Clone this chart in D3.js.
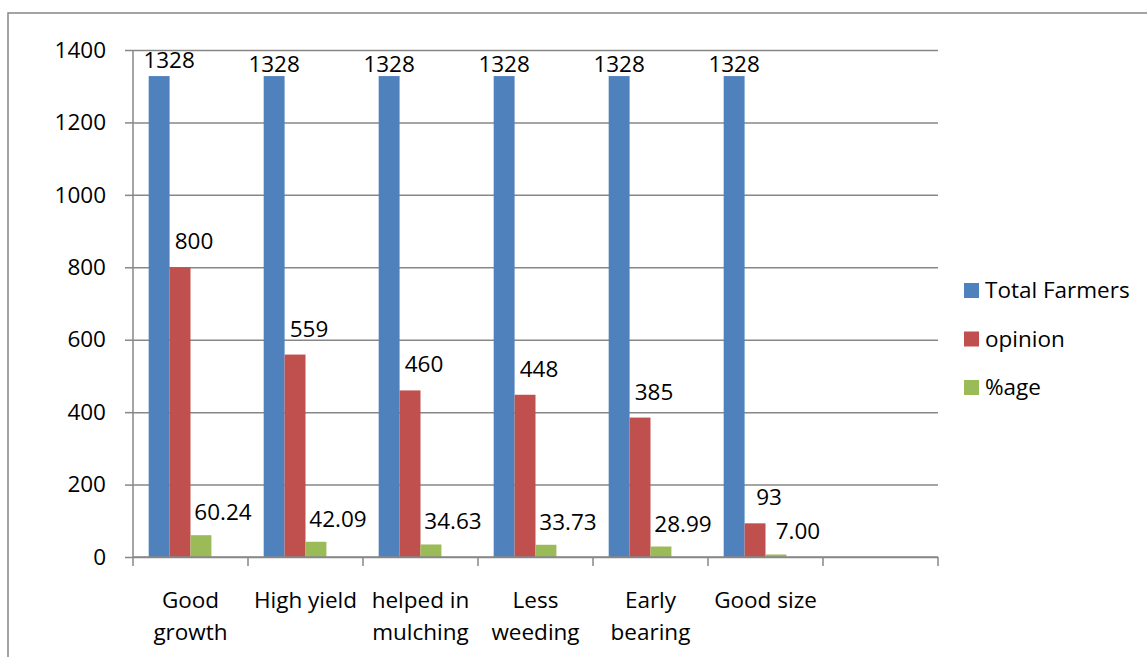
<!DOCTYPE html>
<html>
<head>
<meta charset="utf-8">
<script src="https://cdn.jsdelivr.net/npm/d3@7"></script>
<style>
  html, body { margin: 0; padding: 0; background: #fff; }
  svg { display: block; font-family: "Open Sans", Lato, sans-serif; }
</style>
</head>
<body>
<svg id="chart" width="1147" height="657"></svg>
<script>
// Farmers' opinions on the practice, by observed benefit
const categories = ["Good\ngrowth", "High yield", "helped in\nmulching", "Less\nweeding", "Early\nbearing", "Good size", ""];
const seriesNames = ["Total Farmers", "opinion", "%age"];
const totalFarmers = [1328, 1328, 1328, 1328, 1328, 1328];
const opinion = [800, 559, 460, 448, 385, 93];
const percentage = [60.24, 42.09, 34.63, 33.73, 28.99, 7.00];
const yTicks = [0, 200, 400, 600, 800, 1000, 1200, 1400];

const colors = ["#4F81BD", "#C0504D", "#9BBB59"];
const seriesValues = [totalFarmers, opinion, percentage];
const labelFormats = [d3.format("d"), d3.format("d"), d3.format(".2f")];
// label placement relative to the bar top centre, per series
const labelDx = [0, 14, 22];
const labelDy = [-4, -18, -15];

const svg = d3.select("#chart");
const plotLeft = 133, plotRight = 938, plotTop = 50, plotBottom = 557;
const gridColor = "#878787";
const fontSize = 22.5;
const fontFamily = "'Open Sans', Lato, sans-serif";

// outer frame
svg.append("rect")
  .attr("x", 8).attr("y", 13)
  .attr("width", 1160).attr("height", 670)
  .attr("fill", "none").attr("stroke", gridColor).attr("stroke-width", 1.5);

const x0 = d3.scaleBand().domain(d3.range(categories.length)).range([plotLeft, plotRight]).padding(0);
// a fourth, empty slot keeps the bar group width of the source chart
const x1 = d3.scaleBand().domain([0, 1, 2, 3]).range([0, x0.bandwidth()]).paddingInner(0).paddingOuter(0.75);
const y = d3.scaleLinear().domain([0, 1400]).range([plotBottom, plotTop]);

// horizontal gridlines
svg.append("g")
  .attr("transform", `translate(${plotLeft},0)`)
  .call(d3.axisLeft(y).tickValues(yTicks).tickSize(-(plotRight - plotLeft)).tickFormat(""))
  .call(g => g.select(".domain").remove())
  .call(g => g.selectAll("line").attr("stroke", gridColor).attr("stroke-width", 1.5));

// y axis with outward ticks
const yAxis = svg.append("g")
  .attr("transform", `translate(${plotLeft},0)`)
  .call(d3.axisLeft(y).tickValues(yTicks).tickSize(8).tickPadding(19).tickFormat(d3.format("d")));
yAxis.select(".domain").attr("stroke", gridColor).attr("stroke-width", 1.5).attr("d", `M0,${plotTop}V${plotBottom}`);
yAxis.selectAll("line").attr("stroke", gridColor).attr("stroke-width", 1.5);
yAxis.selectAll("text").attr("font-size", fontSize).attr("font-family", fontFamily).attr("fill", "#000");

// bars with value labels
seriesValues.forEach((vals, s) => {
  const g = svg.append("g");
  g.selectAll("rect").data(vals).join("rect")
    .attr("x", (d, i) => x0(i) + x1(s))
    .attr("y", d => y(d))
    .attr("width", x1.bandwidth())
    .attr("height", d => y(0) - y(d))
    .attr("fill", colors[s]);
  g.selectAll("text").data(vals).join("text")
    // first label is nudged clear of the axis tick label
    .attr("x", (d, i) => x0(i) + x1(s) + x1.bandwidth() / 2 + labelDx[s] + (s === 0 && i === 0 ? 10 : 0))
    .attr("y", (d, i) => y(d) + labelDy[s] + (s === 0 && i === 0 ? -4 : 0))
    .attr("text-anchor", "middle")
    .attr("font-size", fontSize)
    .attr("fill", "#000")
    .text(d => labelFormats[s](d));
});

// x axis line and slot boundary ticks
const xa = svg.append("g");
xa.append("line")
  .attr("x1", plotLeft).attr("x2", plotRight).attr("y1", plotBottom).attr("y2", plotBottom)
  .attr("stroke", gridColor).attr("stroke-width", 1.5);
const bounds = d3.range(categories.length).map(i => x0(i)).concat([plotRight]);
xa.selectAll("line.tick").data(bounds).join("line")
  .attr("class", "tick")
  .attr("x1", d => d).attr("x2", d => d)
  .attr("y1", plotBottom).attr("y2", plotBottom + 9)
  .attr("stroke", gridColor).attr("stroke-width", 1.5);

// category labels, one or two lines
categories.forEach((c, i) => {
  if (!c) return;
  const cx = x0(i) + x0.bandwidth() / 2;
  const t = xa.append("text")
    .attr("x", cx)
    .attr("y", 608)
    .attr("text-anchor", "middle")
    .attr("font-size", fontSize)
    .attr("fill", "#000");
  c.split("\n").forEach((line, k) => {
    t.append("tspan").attr("x", cx).attr("dy", k === 0 ? 0 : 32).text(line);
  });
});

// legend
const legend = svg.append("g").attr("transform", "translate(964,283)");
seriesNames.forEach((name, s) => {
  const row = legend.append("g").attr("transform", `translate(0,${s * 48.5})`);
  row.append("rect").attr("width", 15).attr("height", 15).attr("fill", colors[s]);
  row.append("text").attr("x", 21).attr("y", 15).attr("font-size", fontSize).attr("fill", "#000").text(name);
});
</script>
</body>
</html>
